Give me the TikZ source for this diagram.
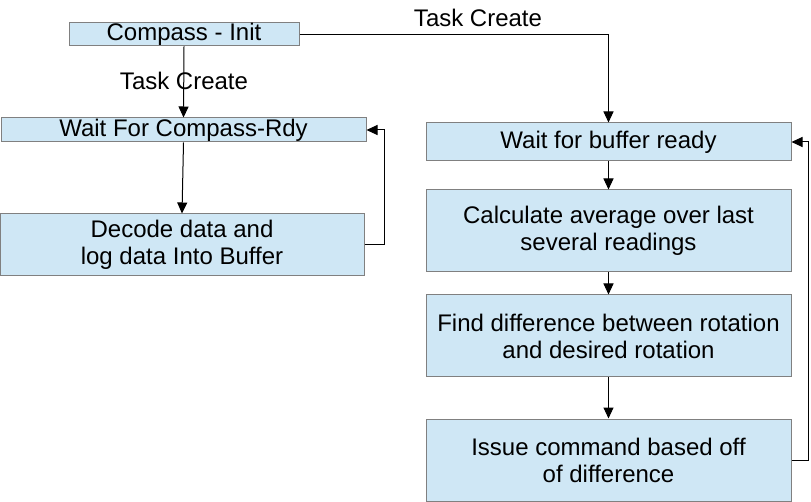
\documentclass[tikz,border=0pt]{standalone}
\usepackage{fontspec}
\setmainfont{Liberation Sans}
\usetikzlibrary{arrows.meta}
\definecolor{boxfill}{RGB}{207,231,245}
\definecolor{boxline}{RGB}{128,128,128}
\begin{document}
\begin{tikzpicture}[x=1pt,y=-1pt,
  procbox/.style={draw=boxline,fill=boxfill,line width=1pt,inner sep=0pt,align=center,
    font=\fontsize{24}{27}\selectfont},
  conn/.style={line width=1pt,-{Triangle[length=11pt,width=10pt]}},
  lbl/.style={font=\fontsize{24}{27}\selectfont,inner sep=0pt}]
\useasboundingbox (0,0) rectangle (811,502);
\node[procbox,minimum width=230,minimum height=23] (init) at (184,34.5) {\raisebox{-1pt}{Compass - Init}};
\node[procbox,minimum width=365,minimum height=24] (wcomp) at (183.5,130) {\raisebox{-1pt}{Wait For Compass-Rdy}};
\node[procbox,minimum width=364,minimum height=62] (decode) at (182,245) {\raisebox{0pt}{}Decode data and\\log data Into Buffer};
\node[procbox,minimum width=365,minimum height=38] (wbuf) at (608.5,142) {\raisebox{-2pt}{Wait for buffer ready}};
\node[procbox,minimum width=365,minimum height=82] (calc) at (608.5,231) {Calculate average over last\\several readings};
\node[procbox,minimum width=365,minimum height=82] (find) at (608.5,336) {Find difference between rotation\\and desired rotation};
\node[procbox,minimum width=365,minimum height=82] (issue) at (608.5,460) {Issue command based off\\of difference};
\coordinate (c1) at (384,245);
\coordinate (c2) at (808,460);
\draw[conn] (init.south) -- (wcomp.north);
\node[lbl] (tc1) at (184,81) {Task Create};
\draw[conn] (wcomp.south) -- (decode.north);
\draw[conn] (decode.east) -- (c1) -- (c1 |- wcomp.east) -- (wcomp.east);
\draw[conn] (init.east) -| (wbuf.north);
\node[lbl] (tc2) at (478,18) {Task Create};
\draw[conn] (wbuf.south) -- (calc.north);
\draw[conn] (calc.south) -- (find.north);
\draw[conn] (find.south) -- (issue.north);
\draw[conn] (issue.east) -- (c2) -- (c2 |- wbuf.east) -- (wbuf.east);
\end{tikzpicture}
\end{document}
